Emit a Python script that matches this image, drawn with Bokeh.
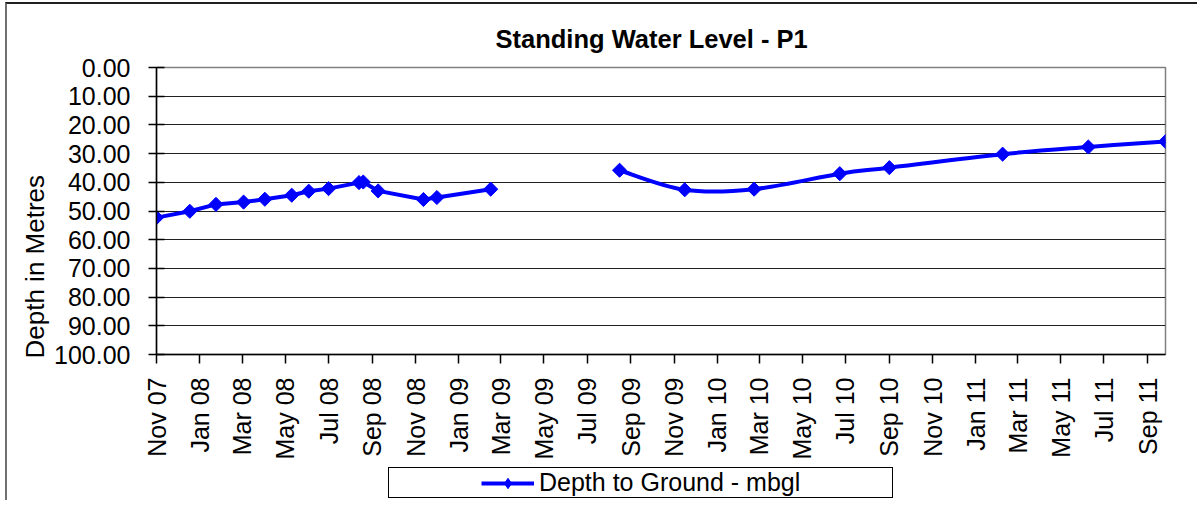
import math
import numpy as np
import pandas as pd
from bokeh.plotting import figure
from bokeh.layouts import column
from bokeh.models import (Range1d, FixedTicker, NumeralTickFormatter, DatetimeTickFormatter,
                          Legend, LegendItem, ColumnDataSource, Title)
from bokeh.embed import file_html
from bokeh.resources import INLINE

# ---------------- data ----------------
title_text = "Standing Water Level - P1"
y_axis_title = "Depth in Metres"
series_label = "Depth to Ground - mbgl"

dates_a = ["2007-11-01", "2007-12-18", "2008-01-24", "2008-03-03", "2008-04-02",
           "2008-05-10", "2008-06-03", "2008-07-01", "2008-08-13", "2008-08-19",
           "2008-09-09", "2008-11-12", "2008-12-01", "2009-02-15"]
depth_a = [52.3, 50.1, 47.7, 46.9, 45.9, 44.5, 43.1, 42.2, 40.1, 39.9,
           43.0, 46.0, 45.3, 42.4]

dates_b = ["2009-08-16", "2009-11-16", "2010-02-22", "2010-06-23", "2010-09-01",
           "2011-02-08", "2011-06-09", "2011-09-26"]
depth_b = [35.8, 42.6, 42.4, 37.0, 34.9, 30.2, 27.7, 25.8]

x_start = "2007-11-01"
x_end = "2011-09-26"
tick_dates = ["2007-11-01", "2008-01-01", "2008-03-01", "2008-05-01", "2008-07-01",
              "2008-09-01", "2008-11-01", "2009-01-01", "2009-03-01", "2009-05-01",
              "2009-07-01", "2009-09-01", "2009-11-01", "2010-01-01", "2010-03-01",
              "2010-05-01", "2010-07-01", "2010-09-01", "2010-11-01", "2011-01-01",
              "2011-03-01", "2011-05-01", "2011-07-01", "2011-09-01"]
y_ticks = [0, 10, 20, 30, 40, 50, 60, 70, 80, 90, 100]


def ms(d):
    return pd.Timestamp(d).value / 1e6


xa = [ms(d) for d in dates_a]
xb = [ms(d) for d in dates_b]


# smoothed (Excel-like) curve for the second part; control points derived from the data
def smooth_segments(xs, ys):
    px = [xs[0]] + list(xs) + [xs[-1]]
    py = [ys[0]] + list(ys) + [ys[-1]]
    out = dict(x0=[], y0=[], x1=[], y1=[], cx0=[], cy0=[], cx1=[], cy1=[])
    for i in range(len(xs) - 1):
        out["x0"].append(px[i + 1]); out["y0"].append(py[i + 1])
        out["x1"].append(px[i + 2]); out["y1"].append(py[i + 2])
        out["cx0"].append(px[i + 1] + (px[i + 2] - px[i]) / 6.0)
        out["cy0"].append(py[i + 1] + (py[i + 2] - py[i]) / 6.0)
        out["cx1"].append(px[i + 2] - (px[i + 3] - px[i + 1]) / 6.0)
        out["cy1"].append(py[i + 2] - (py[i + 3] - py[i + 1]) / 6.0)
    return out


FONT = "Liberation Sans"
BLUE = "#0000FF"
FS = "25px"

# ---------------- main chart ----------------
p = figure(frame_width=1009, frame_height=287, x_axis_type="datetime",
           x_range=Range1d(ms(x_start), ms(x_end)),
           y_range=Range1d(100, 0),
           output_backend="svg", toolbar_location=None,
           min_border_left=149, min_border_right=32,
           min_border_top=63, min_border_bottom=110)

p.background_fill_color = "white"
p.border_fill_color = "white"
p.outline_line_color = "#808080"
p.outline_line_width = 1.5

p.title.text = title_text
p.title.text_font = FONT
p.title.text_font_size = "25.5px"
p.title.text_font_style = "bold"
p.title.text_color = "black"
p.title.align = "left"
p.title.offset = 339
p.title.standoff = 30

p.xaxis.ticker = FixedTicker(ticks=[ms(d) for d in tick_dates])
fmt = "%b %y"
p.xaxis.formatter = DatetimeTickFormatter(years=fmt, months=fmt, days=fmt, hours=fmt,
                                          hourmin=fmt, minutes=fmt, minsec=fmt,
                                          seconds=fmt, milliseconds=fmt, microseconds=fmt)
p.xaxis.major_label_orientation = math.pi / 2
p.yaxis.ticker = FixedTicker(ticks=y_ticks)
p.yaxis.formatter = NumeralTickFormatter(format="0.00")

for ax in (p.xaxis[0], p.yaxis[0]):
    ax.major_label_text_font = FONT
    ax.major_label_text_font_size = FS
    ax.major_label_text_color = "black"
    ax.axis_line_color = "black"
    ax.axis_line_width = 1.5
    ax.major_tick_line_color = "black"
    ax.major_tick_line_width = 1.5
    ax.minor_tick_line_color = None

p.yaxis.major_tick_in = 8
p.yaxis.major_tick_out = 8
p.yaxis.major_label_standoff = 18
p.xaxis.major_tick_in = 0
p.xaxis.major_tick_out = 9
p.xaxis.major_label_standoff = 14

# y-axis title (starts near the bottom of the plot area, as in the original)
ytitle = Title(text=y_axis_title, align="left", offset=-4, standoff=3,
               text_font=FONT, text_font_size="26px", text_font_style="normal",
               text_color="black")
p.add_layout(ytitle, "left")

p.xgrid.grid_line_color = None
p.ygrid.grid_line_color = "#202020"
p.ygrid.grid_line_width = 1.2

p.line(xa, depth_a, line_color=BLUE, line_width=4, line_join="round", line_cap="round")
seg = ColumnDataSource(smooth_segments(xb, depth_b))
p.bezier(x0="x0", y0="y0", x1="x1", y1="y1", cx0="cx0", cy0="cy0", cx1="cx1", cy1="cy1",
         source=seg, line_color=BLUE, line_width=4, line_cap="round")
p.scatter(xa, depth_a, marker="square", angle=math.pi / 4, size=10,
          fill_color=BLUE, line_color=BLUE)
p.scatter(xb, depth_b, marker="square", angle=math.pi / 4, size=10,
          fill_color=BLUE, line_color=BLUE)

# ---------------- legend strip ----------------
q = figure(width=1190, height=36, output_backend="svg", toolbar_location=None,
           x_axis_location=None, y_axis_location=None,
           x_range=Range1d(0, 1), y_range=Range1d(0, 1),
           min_border_left=0, min_border_right=0, min_border_top=0, min_border_bottom=0)
q.grid.visible = False
q.outline_line_color = None
q.background_fill_color = "white"
q.border_fill_color = "white"

nan = np.array([np.nan])
key_line = q.line(x=nan, y=nan, line_color=BLUE, line_width=4)
key_marker = q.scatter(x=nan, y=nan, marker="diamond", fill_color=BLUE, line_color=BLUE)
spacer = q.line(x=nan, y=nan, line_alpha=0)

legend = Legend(items=[LegendItem(label=" ", renderers=[spacer]),
                       LegendItem(label=series_label, renderers=[key_line, key_marker]),
                       LegendItem(label=" ", renderers=[spacer])],
                orientation="horizontal",
                location=(232, 2), padding=0, margin=0, spacing=34,
                glyph_width=53, glyph_height=26, label_height=26, label_width=0,
                label_standoff=5,
                border_line_color="black", border_line_width=1.5, border_line_alpha=1,
                background_fill_alpha=0,
                label_text_font=FONT, label_text_font_size=FS, label_text_color="black")
q.add_layout(legend, "center")

layout = column(p, q, spacing=0)
layout.styles = {"margin-left": "5px", "margin-top": "2px",
                 "border-left": "2px solid #707070", "border-top": "2px solid #202020"}

open("out.html", "w").write(file_html(layout, INLINE))
